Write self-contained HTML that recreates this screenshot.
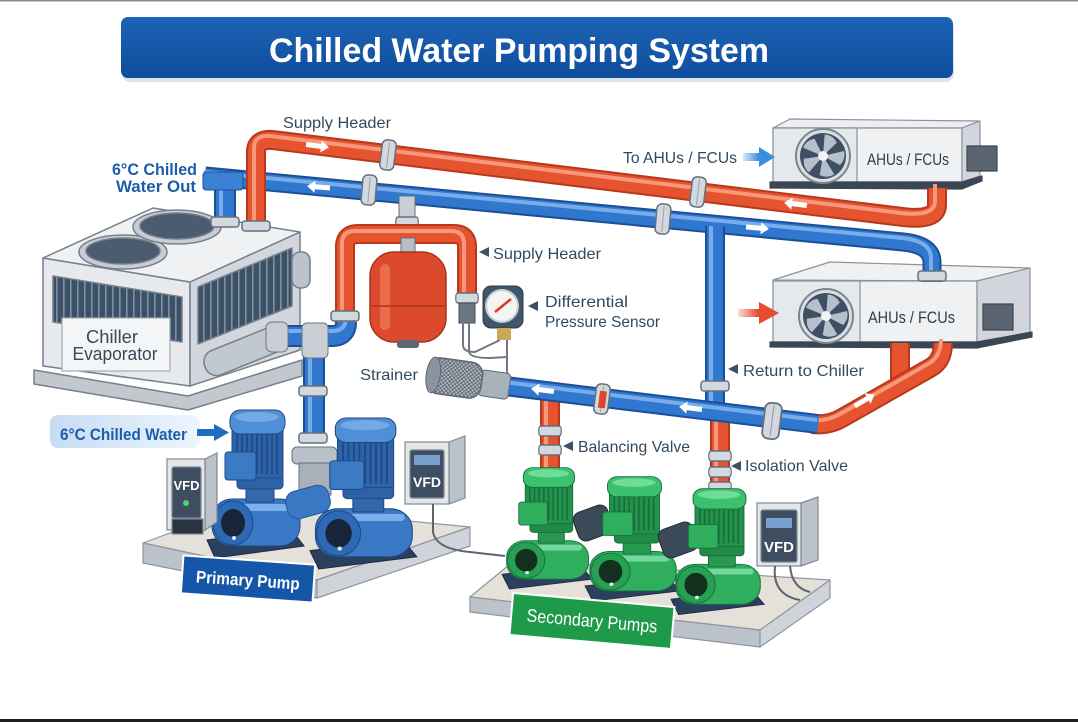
<!DOCTYPE html>
<html><head><meta charset="utf-8"><style>
html,body{margin:0;padding:0;background:#fff;width:1078px;height:722px;overflow:hidden}
svg{display:block}
text{font-family:"Liberation Sans",Arial,sans-serif}
</style></head><body>
<svg width="1078" height="722" viewBox="0 0 1078 722" xmlns="http://www.w3.org/2000/svg">
<defs>
<linearGradient id="tb" x1="0" y1="0" x2="0" y2="1"><stop offset="0" stop-color="#1e63b6"/><stop offset="1" stop-color="#0f4d9c"/></linearGradient>
<linearGradient id="pill" x1="0" x2="1"><stop offset="0" stop-color="#c6dcf3"/><stop offset="1" stop-color="#edf5fd"/></linearGradient>
<linearGradient id="barr" x1="0" x2="1"><stop offset="0" stop-color="#3a8ee0" stop-opacity="0.2"/><stop offset="0.5" stop-color="#3a8ee0"/></linearGradient>
<linearGradient id="rarr" x1="0" x2="1"><stop offset="0" stop-color="#e84a30" stop-opacity="0.2"/><stop offset="0.5" stop-color="#e84a30"/></linearGradient>
<pattern id="grille" patternUnits="userSpaceOnUse" width="7" height="8"><rect width="7" height="8" fill="#3d5166"/><rect width="1.6" height="8" fill="#7d91a5"/></pattern>
<pattern id="mesh" patternUnits="userSpaceOnUse" width="4" height="4"><rect width="4" height="4" fill="#b9c0c8"/><path d="M0,0L4,4M4,0L0,4" stroke="#59626d" stroke-width="0.8"/></pattern>

<path id="bh" d="M205,176 L903,242 Q932,245 932,262 V282"/>
<path id="rh" d="M256,230 V152 Q256,139 272,140 L903,217 Q937,221 937,205 V188"/>
<path id="rexp" d="M345,322 V247 Q345,234 358,234 L454,234 Q467,234 467,247 V300"/>
<path id="bchl" d="M272,336 L332,336 Q346,336 346,322"/>
<path id="bvert" d="M314,340 V440"/>
<path id="bdrop" d="M715,226 V410"/>
<path id="blow" d="M505,386 L818,424"/>
<path id="rret" d="M812,424 Q828,426 842,418 L930,368 Q943,361 943,343"/>
<path id="rret2" d="M900,343 V388"/>
<path id="rs1" d="M550,391 V470"/>
<path id="rs2" d="M720,411 V490"/>
<path id="bstub" d="M225,180 V222"/>

<g id="ringV"><rect x="-7" y="-15" width="14" height="30" rx="5" fill="#d3d8de" stroke="#65707d" stroke-width="1.5"/><line x1="0" y1="-13" x2="0" y2="13" stroke="#98a1ac"/></g>
<g id="ringH"><rect x="-14" y="-5" width="28" height="10" rx="3" fill="#d3d8de" stroke="#65707d" stroke-width="1.5"/></g>
<path id="wa" d="M-12,-2.5 H3 V-6 L11,0 L3,6 V2.5 H-12 Z" fill="#fff"/>

<g id="fan"><circle r="27" fill="#dadee3" stroke="#7b8592" stroke-width="2"/><circle r="23" fill="#3f5064"/>
<g fill="#b6bfca"><path d="M0,0 L21,-5 Q23,3 17,9 Z"/><path d="M0,0 L21,-5 Q23,3 17,9 Z" transform="rotate(72)"/><path d="M0,0 L21,-5 Q23,3 17,9 Z" transform="rotate(144)"/><path d="M0,0 L21,-5 Q23,3 17,9 Z" transform="rotate(216)"/><path d="M0,0 L21,-5 Q23,3 17,9 Z" transform="rotate(288)"/></g>
<circle r="5" fill="#f2f4f6"/></g>

<g id="pumpB">
<polygon points="0,132 84,121 97,138 8,150" fill="#2b3f5e" stroke="#1b2a40"/>
<rect x="5" y="91" width="88" height="47" rx="20" fill="#3a79c6" stroke="#1d4a88"/>
<rect x="14" y="96" width="72" height="7" rx="3" fill="#7db0ea"/>
<rect x="39" y="78" width="28" height="16" fill="#3468ad" stroke="#1d4a88"/>
<rect x="30" y="67" width="46" height="14" rx="4" fill="#2d62a6" stroke="#1d4a88"/>
<rect x="25" y="20" width="51" height="50" fill="#2e63aa" stroke="#1d4a88"/>
<path d="M30,24V66M35,24V66M40,24V66M45,24V66M50,24V66M55,24V66M60,24V66M65,24V66M70,24V66" stroke="#1d467e" stroke-width="1.5"/>
<rect x="23" y="2" width="55" height="24" rx="10" fill="#4f8fd6" stroke="#1d4a88"/>
<ellipse cx="50" cy="9" rx="22" ry="5" fill="#74a9e6"/>
<rect x="18" y="44" width="31" height="28" rx="3" fill="#3b7bc6" stroke="#1d4a88"/>
<ellipse cx="26" cy="115" rx="20" ry="22" fill="#2f69b4" stroke="#1d4a88"/>
<ellipse cx="26" cy="115" rx="12" ry="14" fill="#17253a"/>
<circle cx="27" cy="130" r="2" fill="#dfe6ee"/>
</g>
<g id="pumpG">
<polygon points="0,132 84,121 97,138 8,150" fill="#2b3f5e" stroke="#1b2a40"/>
<rect x="5" y="91" width="88" height="47" rx="20" fill="#2fae5e" stroke="#16703a"/>
<rect x="14" y="96" width="72" height="7" rx="3" fill="#74d79b"/>
<rect x="39" y="78" width="28" height="16" fill="#28994f" stroke="#16703a"/>
<rect x="30" y="67" width="46" height="14" rx="4" fill="#218a47" stroke="#16703a"/>
<rect x="25" y="20" width="51" height="50" fill="#23924c" stroke="#16703a"/>
<path d="M30,24V66M35,24V66M40,24V66M45,24V66M50,24V66M55,24V66M60,24V66M65,24V66M70,24V66" stroke="#176b36" stroke-width="1.5"/>
<rect x="23" y="2" width="55" height="24" rx="10" fill="#3cc26e" stroke="#16703a"/>
<ellipse cx="50" cy="9" rx="22" ry="5" fill="#6fdc98"/>
<rect x="18" y="44" width="31" height="28" rx="3" fill="#2fae5e" stroke="#16703a"/>
<ellipse cx="26" cy="115" rx="20" ry="22" fill="#27a053" stroke="#16703a"/>
<ellipse cx="26" cy="115" rx="12" ry="14" fill="#12301e"/>
<circle cx="27" cy="130" r="2" fill="#e0f0e6"/>
</g>
</defs>

<rect width="1078" height="722" fill="#fff"/>
<rect x="0" y="0" width="1078" height="1.5" fill="#8c8c8c"/>
<rect x="0" y="719" width="1078" height="3" fill="#1e1e1e"/>

<!-- Title -->
<rect x="122" y="20" width="832" height="62" rx="8" fill="#dbe5f0"/>
<rect x="121" y="17" width="832" height="61" rx="7" fill="url(#tb)"/>
<text x="519" y="62" text-anchor="middle" font-size="34" font-weight="bold" fill="#fff" textLength="500" lengthAdjust="spacingAndGlyphs">Chilled Water Pumping System</text>

<!-- Top AHU -->
<g stroke="#8a939e" stroke-width="1.2" stroke-linejoin="round">
<polygon points="773,128 790,119 980,121 962,128" fill="#eceef1"/>
<rect x="773" y="128" width="189" height="54" fill="#eff1f3"/>
<rect x="773" y="128" width="84" height="54" fill="#e6e9ec"/>
<polygon points="962,128 980,121 980,176 962,182" fill="#d2d6dc"/>
<polygon points="770,182 962,182 982,176 982,181 962,189 770,188" fill="#3b4653" stroke="#3b4653"/>
<rect x="967" y="146" width="30" height="25" fill="#5a6571" stroke="#3f4853"/>
</g>
<use href="#fan" transform="translate(823,156)"/>
<text x="867" y="165" font-size="17" fill="#2f3d4c" textLength="82" lengthAdjust="spacingAndGlyphs">AHUs / FCUs</text>

<!-- Lower AHU -->
<g stroke="#8a939e" stroke-width="1.2" stroke-linejoin="round">
<polygon points="773,280 830,262 1030,268 977,281" fill="#f0f1f3"/>
<rect x="773" y="281" width="204" height="61" fill="#eff1f3"/>
<rect x="773" y="281" width="87" height="61" fill="#e6e9ec"/>
<polygon points="977,281 1030,268 1030,333 977,342" fill="#d2d6dc"/>
<polygon points="770,342 977,342 1032,332 1032,337 977,348 770,347" fill="#3b4653" stroke="#3b4653"/>
<rect x="983" y="304" width="30" height="26" fill="#5a6571" stroke="#3f4853"/>
</g>
<use href="#fan" transform="translate(826,316)"/>
<text x="868" y="323" font-size="17" fill="#2f3d4c" textLength="87" lengthAdjust="spacingAndGlyphs">AHUs / FCUs</text>

<!-- Chiller -->
<g stroke="#75808c" stroke-width="1.5" stroke-linejoin="round">
<polygon points="34,370 188,396 302,360 302,376 188,410 34,384" fill="#c3c8cf"/>
<polygon points="43,258 190,282 190,386 43,366" fill="#e7e9ec"/>
<polygon points="190,282 300,232 300,350 190,386" fill="#d3d7dd"/>
<polygon points="43,258 153,208 300,232 190,282" fill="#eff1f3"/>
<polygon points="53,276 182,297 182,342 53,322" fill="url(#grille)"/>
<polygon points="198,287 292,248 292,306 198,344" fill="url(#grille)"/>
<ellipse cx="123" cy="252" rx="44" ry="17" fill="#c8cdd4"/>
<ellipse cx="123" cy="251" rx="37" ry="13" fill="#4b5c70"/>
<ellipse cx="177" cy="227" rx="44" ry="17" fill="#c8cdd4"/>
<ellipse cx="177" cy="226" rx="37" ry="13" fill="#4b5c70"/>
<rect x="202" y="338" width="86" height="26" rx="12" fill="#c2c8d0" transform="rotate(-22 245 351)"/>
<rect x="292" y="252" width="18" height="36" rx="8" fill="#bcc3cb"/>
</g>
<rect x="62" y="318" width="108" height="53" fill="#f4f5f6" stroke="#a4acb5" stroke-width="1.2"/>
<text x="112" y="343" text-anchor="middle" font-size="18" fill="#3a4858" textLength="52" lengthAdjust="spacingAndGlyphs">Chiller</text>
<text x="115" y="360" text-anchor="middle" font-size="18" fill="#3a4858" textLength="85" lengthAdjust="spacingAndGlyphs">Evaporator</text>

<!-- Blue header -->
<g fill="none">
<use href="#bh" stroke="#1c4f96" stroke-width="19"/>
<use href="#bh" stroke="#2f77cf" stroke-width="15"/>
<use href="#bh" stroke="#78adea" stroke-width="4" transform="translate(-1,-4)"/>
<use href="#bstub" stroke="#1c4f96" stroke-width="22"/>
<use href="#bstub" stroke="#2f77cf" stroke-width="18"/>
<use href="#bstub" stroke="#78adea" stroke-width="4" transform="translate(-4,0)"/>
</g>
<rect x="203" y="172" width="40" height="18" rx="3" fill="#3a80d4" stroke="#1c4f96"/>
<!-- Red header -->
<g fill="none">
<use href="#rh" stroke="#b8381c" stroke-width="20"/>
<use href="#rh" stroke="#e5532f" stroke-width="16"/>
<use href="#rh" stroke="#f8987a" stroke-width="4" transform="translate(-2,-4)"/>
</g>
<use href="#ringH" transform="translate(225,222)"/>
<use href="#ringH" transform="translate(256,226)"/>
<use href="#ringV" transform="translate(388,155) rotate(7)"/>
<use href="#ringV" transform="translate(698,192) rotate(7)"/>
<use href="#ringV" transform="translate(369,190) rotate(5)"/>
<use href="#ringV" transform="translate(663,219) rotate(5)"/>
<use href="#ringH" transform="translate(932,276)"/>

<!-- expansion branch -->
<rect x="399" y="196" width="16" height="32" fill="#c9ced5" stroke="#65707d"/>
<use href="#ringH" transform="translate(407,222) scale(0.8,1)"/>
<g fill="none">
<use href="#rexp" stroke="#b8381c" stroke-width="20"/>
<use href="#rexp" stroke="#e5532f" stroke-width="16"/>
<use href="#rexp" stroke="#f8987a" stroke-width="4" transform="translate(-3,-3)"/>
</g>
<rect x="401" y="238" width="14" height="16" fill="#b7bec6" stroke="#65707d"/>
<rect x="370" y="252" width="76" height="90" rx="24" fill="#dc4a2c" stroke="#a8341c" stroke-width="1.5"/>
<rect x="380" y="264" width="10" height="66" rx="5" fill="#f07a5a" opacity=".7"/>
<line x1="371" y1="306" x2="445" y2="306" stroke="#a8341c" stroke-width="1.5"/>
<rect x="397" y="340" width="22" height="8" rx="3" fill="#5b6672"/>
<use href="#ringH" transform="translate(467,298) scale(0.8,1)"/>
<rect x="459" y="303" width="16" height="20" fill="#6c7683" stroke="#454e59"/>
<g fill="none" stroke="#6f7884" stroke-width="2">
<path d="M463,322 V345 Q463,352 475,352 L500,340"/>
<path d="M469,322 V352 Q470,358 490,358 L507,357"/>
<path d="M507,338 V382"/>
</g>
<rect x="483" y="286" width="40" height="42" rx="8" fill="#405669" stroke="#2a3a48"/>
<circle cx="502" cy="306" r="16" fill="#f4f4f2" stroke="#c5ccd4" stroke-width="2"/>
<line x1="495" y1="312" x2="511" y2="299" stroke="#d93a22" stroke-width="2.5"/>
<rect x="497" y="328" width="14" height="12" fill="#c9a85a"/>

<!-- chiller side blue -->
<g fill="none">
<use href="#bvert" stroke="#1c4f96" stroke-width="22"/>
<use href="#bvert" stroke="#2f77cf" stroke-width="18"/>
<use href="#bvert" stroke="#78adea" stroke-width="4" transform="translate(-4,0)"/>
<use href="#bchl" stroke="#1c4f96" stroke-width="22"/>
<use href="#bchl" stroke="#2f77cf" stroke-width="18"/>
<use href="#bchl" stroke="#78adea" stroke-width="4" transform="translate(0,-5)"/>
</g>
<rect x="266" y="322" width="22" height="30" rx="6" fill="#c9ced5" stroke="#6b7582"/>
<rect x="302" y="323" width="26" height="35" rx="5" fill="#c9ced5" stroke="#6b7582"/>
<use href="#ringH" transform="translate(345,316)"/>
<use href="#ringH" transform="translate(313,391)"/>
<use href="#ringH" transform="translate(313,438)"/>
<rect x="292" y="447" width="45" height="17" rx="5" fill="#b9c0c8" stroke="#65707d"/>
<rect x="299" y="463" width="32" height="32" fill="#a8b0ba" stroke="#65707d"/>

<!-- blue drop and lower pipe -->
<g fill="none">
<use href="#bdrop" stroke="#1c4f96" stroke-width="20"/>
<use href="#bdrop" stroke="#2f77cf" stroke-width="16"/>
<use href="#bdrop" stroke="#78adea" stroke-width="4" transform="translate(-4,0)"/>
<use href="#rs1" stroke="#b8381c" stroke-width="20"/>
<use href="#rs1" stroke="#e5532f" stroke-width="16"/>
<use href="#rs1" stroke="#f8987a" stroke-width="4" transform="translate(-4,0)"/>
<use href="#rs2" stroke="#b8381c" stroke-width="20"/>
<use href="#rs2" stroke="#e5532f" stroke-width="16"/>
<use href="#rs2" stroke="#f8987a" stroke-width="4" transform="translate(-4,0)"/>
<use href="#rret2" stroke="#b8381c" stroke-width="20"/>
<use href="#rret2" stroke="#e5532f" stroke-width="16"/>
<use href="#rret" stroke="#b8381c" stroke-width="20"/>
<use href="#rret" stroke="#e5532f" stroke-width="16"/>
<use href="#rret" stroke="#f8987a" stroke-width="4" transform="translate(-2,-4)"/>
<use href="#blow" stroke="#1c4f96" stroke-width="20"/>
<use href="#blow" stroke="#2f77cf" stroke-width="16"/>
<use href="#blow" stroke="#78adea" stroke-width="4" transform="translate(-1,-4)"/>
</g>
<use href="#ringH" transform="translate(715,386)"/>
<use href="#ringV" transform="translate(602,399) rotate(7)"/>
<rect x="599" y="391" width="7" height="17" fill="#d9482a" transform="rotate(7 602 399)"/>
<use href="#ringV" transform="translate(772,421) rotate(7) scale(1.2)"/>
<use href="#ringH" transform="translate(550,431) scale(0.8,1)"/>
<use href="#ringH" transform="translate(550,450) scale(0.8,1)"/>
<use href="#ringH" transform="translate(720,456) scale(0.8,1)"/>
<use href="#ringH" transform="translate(720,472) scale(0.8,1)"/>
<use href="#ringH" transform="translate(720,487) scale(0.8,1)"/>

<!-- strainer -->
<g transform="rotate(8 455 378)">
<rect x="480" y="366" width="30" height="26" rx="4" fill="#a9b1bb" stroke="#5f6873"/>
<rect x="427" y="360" width="55" height="36" rx="12" fill="url(#mesh)" stroke="#5f6873" stroke-width="1.5"/>
<ellipse cx="433" cy="378" rx="7" ry="18" fill="#8a939e" stroke="#5f6873"/>
</g>

<!-- flow arrows -->
<use href="#wa" transform="translate(318,146) rotate(7)"/>
<use href="#wa" transform="translate(318,187) rotate(185)"/>
<use href="#wa" transform="translate(795,204) rotate(187)"/>
<use href="#wa" transform="translate(758,228) rotate(5)"/>
<use href="#wa" transform="translate(690,408) rotate(187)"/>
<use href="#wa" transform="translate(542,390) rotate(187)"/>
<use href="#wa" transform="translate(865,400) rotate(-30)"/>

<!-- primary slab -->
<g stroke="#8d96a0" stroke-width="1.2" stroke-linejoin="round">
<polygon points="143,543 245,505 470,527 317,580" fill="#e6e1d8"/>
<polygon points="143,543 317,580 317,598 143,563" fill="#bcc2ca"/>
<polygon points="317,580 470,527 470,546 317,598" fill="#d0d4da"/>
</g>
<!-- secondary slab -->
<g stroke="#8d96a0" stroke-width="1.2" stroke-linejoin="round">
<polygon points="470,597 515,560 830,580 760,630" fill="#e6e1d8"/>
<polygon points="470,597 760,630 760,647 470,612" fill="#bcc2ca"/>
<polygon points="760,630 830,580 830,598 760,647" fill="#d0d4da"/>
</g>

<!-- primary pumps -->
<use href="#pumpB" transform="translate(207,408)"/>
<rect x="286" y="488" width="44" height="28" rx="11" fill="#3a78c4" stroke="#24569a" transform="rotate(-15 308 502)"/>
<use href="#pumpB" transform="translate(310,416) scale(1.1,1.02)"/>

<!-- secondary pumps -->
<use href="#pumpG" transform="translate(502,466) scale(0.93,0.82)"/>
<rect x="575" y="508" width="36" height="30" rx="8" fill="#3b4a58" stroke="#222d38" transform="rotate(-20 593 523)"/>
<use href="#pumpG" transform="translate(585,475) scale(0.98,0.84)"/>
<rect x="660" y="525" width="36" height="30" rx="8" fill="#3b4a58" stroke="#222d38" transform="rotate(-20 678 540)"/>
<use href="#pumpG" transform="translate(671,487) scale(0.96,0.85)"/>

<!-- VFDs -->
<g stroke="#7e8893" stroke-width="1.2">
<polygon points="205,459 217,453 217,522 205,530" fill="#bcc2ca"/>
<rect x="167" y="459" width="38" height="71" fill="#e4e6ea"/>
<rect x="172" y="467" width="29" height="51" rx="2" fill="#3e4e60"/>
<rect x="172" y="519" width="31" height="15" fill="#2a3440"/>
</g>
<text x="186.5" y="490" text-anchor="middle" font-size="13" font-weight="bold" fill="#fff">VFD</text>
<circle cx="186" cy="503" r="3" fill="#4cd464"/>
<g stroke="#7e8893" stroke-width="1.2">
<polygon points="449,442 465,436 465,498 449,504" fill="#bcc2ca"/>
<rect x="405" y="442" width="44" height="62" fill="#e4e6ea"/>
<rect x="410" y="450" width="34" height="48" rx="2" fill="#3e4e60"/>
<rect x="414" y="455" width="26" height="10" fill="#7aa0d0" stroke="none"/>
</g>
<text x="427" y="487" text-anchor="middle" font-size="14" font-weight="bold" fill="#fff">VFD</text>
<g stroke="#7e8893" stroke-width="1.2">
<polygon points="801,503 818,497 818,560 801,566" fill="#bcc2ca"/>
<rect x="757" y="503" width="44" height="63" fill="#e4e6ea"/>
<rect x="761" y="510" width="36" height="52" rx="2" fill="#3e4e60"/>
<rect x="766" y="518" width="26" height="10" fill="#7aa0d0" stroke="none"/>
</g>
<text x="779" y="552" text-anchor="middle" font-size="15" font-weight="bold" fill="#fff">VFD</text>
<g fill="none" stroke="#5b6470" stroke-width="2">
<path d="M433,504 V532 Q436,549 470,552 L505,556"/>
<path d="M775,566 Q772,595 800,600"/>
<path d="M790,566 Q792,588 810,592"/>
</g>

<!-- Labels -->
<rect x="182" y="560" width="132" height="38" fill="#1556a8" stroke="#fff" stroke-width="2" transform="rotate(4 248 579)"/>
<text x="248" y="586" text-anchor="middle" font-size="17" font-weight="bold" fill="#fff" textLength="104" lengthAdjust="spacingAndGlyphs" transform="rotate(4 248 579)">Primary Pump</text>
<rect x="511" y="600" width="162" height="42" fill="#1f9a4b" stroke="#fff" stroke-width="2" transform="rotate(5 592 621)"/>
<text x="592" y="627" text-anchor="middle" font-size="18" fill="#fff" textLength="131" lengthAdjust="spacingAndGlyphs" transform="rotate(5 592 621)">Secondary Pumps</text>

<g fill="#34495c" font-size="16">
<text x="283" y="128" textLength="108" lengthAdjust="spacingAndGlyphs">Supply Header</text>
<text x="623" y="163" textLength="114" lengthAdjust="spacingAndGlyphs">To AHUs / FCUs</text>
<text x="493" y="259" textLength="108" lengthAdjust="spacingAndGlyphs">Supply Header</text>
<text x="545" y="307" textLength="83" lengthAdjust="spacingAndGlyphs">Differential</text>
<text x="545" y="327" textLength="115" lengthAdjust="spacingAndGlyphs">Pressure Sensor</text>
<text x="360" y="380" textLength="58" lengthAdjust="spacingAndGlyphs">Strainer</text>
<text x="743" y="376" textLength="121" lengthAdjust="spacingAndGlyphs">Return to Chiller</text>
<text x="578" y="452" textLength="112" lengthAdjust="spacingAndGlyphs">Balancing Valve</text>
<text x="745" y="471" textLength="103" lengthAdjust="spacingAndGlyphs">Isolation Valve</text>
</g>
<g fill="#3a5068">
<polygon points="479,252 489,247 489,257"/>
<polygon points="528,306 538,301 538,311"/>
<polygon points="728,369 738,364 738,374"/>
<polygon points="563,446 573,441 573,451"/>
<polygon points="731,466 741,461 741,471"/>
</g>
<g fill="#1c5ea8" font-size="17" font-weight="bold">
<text x="197" y="175" text-anchor="end" textLength="85" lengthAdjust="spacingAndGlyphs">6°C Chilled</text>
<text x="196" y="192" text-anchor="end" textLength="80" lengthAdjust="spacingAndGlyphs">Water Out</text>
</g>
<rect x="50" y="415" width="150" height="33" rx="8" fill="url(#pill)"/>
<text x="60" y="440" font-size="17" font-weight="bold" fill="#1c5ea8" textLength="127" lengthAdjust="spacingAndGlyphs">6°C Chilled Water</text>
<polygon points="197,429 214,429 214,424 229,432.5 214,441 214,436 197,436" fill="#1f6cc0"/>
<polygon points="743,153 759,153 759,147 775,157 759,167 759,161 743,161" fill="url(#barr)"/>
<polygon points="738,309 759,309 759,302 779,313 759,324 759,317 738,317" fill="url(#rarr)"/>
</svg>
</body></html>
